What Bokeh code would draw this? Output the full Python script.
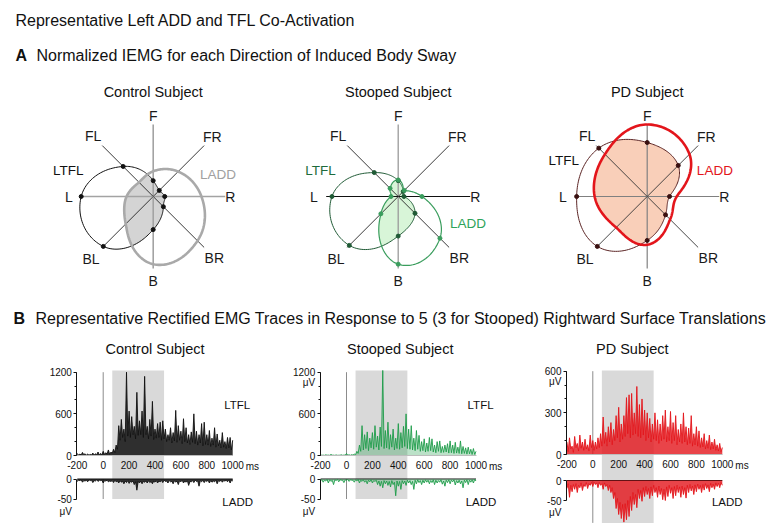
import math
import numpy as np
from bokeh.plotting import figure
from bokeh.layouts import column, row
from bokeh.models import (LinearAxis, Range1d, SingleIntervalTicker, FixedTicker,
                          BoxAnnotation, Label)
from bokeh.core.properties import value
from bokeh.embed import file_html
from bokeh.resources import INLINE

FONT = "Liberation Sans"

# ------------------------------------------------------------------ data
TITLE = "Representative Left ADD and TFL Co-Activation"
PANEL_A = ("A", "Normalized IEMG for each Direction of Induced Body Sway")
PANEL_B = ("B", "Representative Rectified EMG Traces in Response to 5 (3 for Stooped) Rightward Surface Translations")
SUBJECTS = ["Control Subject", "Stooped Subject", "PD Subject"]

DIRECTIONS = ["F", "FR", "R", "BR", "B", "BL", "L", "FL"]
DIR_ANGLES = [90, 45, 0, -45, -90, -135, -180, -225]

# normalized IEMG per direction (same order as DIRECTIONS)
CONTROL_LTFL = [0.22, 0.12, 0.16, 0.20, 0.46, 0.98, 1.00, 0.59]
CONTROL_LADD = [0.35, 0.49, 0.67, 0.87, 0.94, 0.54, 0.37, 0.28]
STOOPED_LTFL = [0.22, 0.10, 0.08, 0.33, 0.55, 0.96, 0.92, 0.47]
STOOPED_LADD = [0.23, 0.12, 0.33, 0.82, 0.94, 0.34, 0.10, 0.16]
PD_LTFL = [0.75, 0.61, 0.31, 0.36, 0.61, 0.98, 0.98, 0.95]
PD_LADD = [1.00, 0.83, 0.41, 0.45, 0.67, 0.61, 0.73, 0.83]

TIME_TICKS = [-200, 0, 200, 400, 600, 800, 1000]
STIM_ONSET = 0
SHADE_MS = [70, 470]
T_PEAK = list(range(-200, 1001, 20))   # times of local extremes (ms)
T_MID = list(range(-190, 991, 20))     # times of in-between values (ms)

CONTROL_LTFL_PEAK = [30, 20, 45, 25, 20, 15, 35, 25, 50, 30,
                     60, 40, 80, 50, 90, 150, 430, 520, 380, 1200,
                     640, 560, 420, 910, 500, 640, 1140, 420, 520, 780,
                     380, 460, 480, 500, 380, 300, 400, 330, 650, 430,
                     350, 530, 400, 300, 340, 600, 350, 300, 460, 480,
                     300, 360, 250, 400, 310, 220, 330, 200, 260, 260, 220]
CONTROL_LTFL_MID = [5, 8, 10, 5, 5, 8, 5, 10, 8, 10,
                    15, 20, 15, 30, 40, 90, 220, 260, 200, 280,
                    260, 300, 240, 290, 300, 260, 300, 240, 280, 230,
                    250, 260, 220, 240, 200, 220, 180, 210, 190, 220,
                    170, 200, 180, 160, 190, 170, 150, 180, 140, 160,
                    150, 130, 150, 120, 140, 110, 120, 100, 110, 80]
CONTROL_LADD_PEAK = [-6, -4, -8, -5, -7, -4, -9, -5, -6, -4,
                     -10, -5, -7, -6, -9, -7, -10, -8, -12, -9,
                     -11, -8, -14, -28, -10, -12, -8, -10, -9, -12,
                     -8, -10, -7, -9, -6, -10, -7, -12, -8, -14,
                     -7, -10, -8, -16, -7, -9, -6, -18, -7, -9,
                     -6, -10, -8, -7, -12, -6, -8, -5, -7, -10, -5]
CONTROL_LADD_MID = [-3, -2, -4, -3, -2, -3, -4, -2, -3, -3,
                    -4, -3, -5, -4, -3, -5, -4, -6, -5, -4,
                    -6, -5, -7, -6, -5, -6, -5, -4, -6, -5,
                    -4, -5, -4, -3, -5, -4, -6, -4, -5, -4,
                    -3, -5, -4, -6, -4, -3, -5, -4, -3, -4,
                    -3, -4, -5, -3, -4, -3, -4, -3, -2, -3]

STOOPED_LTFL_PEAK = [8, 5, 10, 6, 15, 5, 8, 4, 10, 6,
                     30, 10, 12, 20, 60, 150, 430, 300, 340, 250,
                     330, 430, 280, 410, 1225, 360, 480, 300, 380, 250,
                     460, 330, 420, 600, 380, 430, 250, 360, 290, 200,
                     240, 180, 260, 240, 150, 200, 210, 130, 150, 170,
                     210, 150, 190, 120, 210, 130, 110, 120, 90, 100, 60]
STOOPED_LTFL_MID = [3, 2, 4, 3, 5, 2, 3, 4, 3, 5,
                    4, 3, 5, 10, 30, 60, 80, 100, 70, 110,
                    90, 120, 80, 130, 100, 110, 90, 120, 80, 100,
                    90, 110, 130, 100, 90, 80, 70, 90, 60, 70,
                    50, 60, 70, 50, 40, 60, 40, 45, 50, 35,
                    40, 30, 35, 30, 25, 30, 20, 25, 15, 15]
STOOPED_LADD_PEAK = [-3, -8, -5, -10, -6, -14, -4, -7, -3, -9,
                     -4, -6, -3, -8, -5, -10, -6, -8, -12, -7,
                     -10, -6, -14, -18, -22, -12, -16, -20, -14, -42,
                     -18, -26, -12, -16, -10, -14, -26, -12, -9, -14,
                     -10, -8, -12, -9, -14, -10, -8, -13, -18, -9,
                     -12, -7, -15, -10, -12, -22, -9, -14, -8, -10, -5]
STOOPED_LADD_MID = [-2, -3, -1, -2, -3, -2, -1, -2, -3, -2,
                    -1, -2, -3, -2, -1, -3, -2, -4, -3, -2,
                    -4, -3, -5, -6, -4, -5, -6, -4, -8, -5,
                    -6, -4, -5, -3, -4, -6, -3, -2, -4, -3,
                    -2, -3, -4, -2, -3, -4, -2, -5, -3, -2,
                    -3, -2, -4, -3, -5, -3, -2, -3, -2, -1]

PD_LTFL_PEAK = [90, 120, 60, 130, 80, 140, 90, 110, 70, 140,
                100, 90, 120, 150, 270, 160, 200, 230, 180, 280,
                340, 220, 280, 410, 430, 440, 300, 490, 360, 400,
                320, 300, 260, 220, 300, 250, 220, 280, 320, 200,
                310, 230, 280, 180, 220, 300, 200, 190, 280, 150,
                200, 170, 120, 150, 100, 140, 90, 110, 70, 80, 50]
PD_LTFL_MID = [20, 40, 15, 50, 25, 45, 30, 40, 25, 50,
               30, 40, 50, 60, 80, 60, 90, 70, 100, 120,
               90, 110, 130, 150, 120, 140, 150, 130, 120, 140,
               100, 120, 90, 110, 100, 80, 100, 110, 90, 100,
               80, 100, 70, 90, 80, 90, 70, 80, 60, 70,
               60, 50, 55, 40, 45, 35, 40, 30, 25, 20]
PD_LADD_PEAK = [-20, -42, -28, -22, -30, -18, -25, -15, -20, -12,
                -15, -10, -18, -12, -22, -15, -25, -30, -45, -70,
                -85, -95, -104, -98, -90, -75, -60, -68, -45, -52,
                -40, -35, -45, -38, -30, -42, -35, -48, -50, -40,
                -32, -45, -38, -30, -42, -35, -44, -30, -26, -35,
                -28, -22, -30, -24, -20, -28, -18, -22, -15, -18, -12]
PD_LADD_MID = [-8, -12, -10, -8, -12, -6, -10, -5, -8, -5,
               -4, -6, -5, -8, -6, -10, -12, -18, -30, -45,
               -55, -60, -58, -50, -40, -30, -35, -22, -25, -18,
               -15, -20, -16, -12, -18, -14, -20, -22, -16, -12,
               -18, -15, -12, -16, -14, -18, -12, -10, -14, -11,
               -9, -12, -10, -8, -11, -7, -9, -6, -7, -5]

# ------------------------------------------------------------------ helpers
def closed_curve(vals, steps=30):
    k = len(vals)
    th, rr = [], []
    for i in range(k):
        p0, p1, p2, p3 = vals[(i - 1) % k], vals[i], vals[(i + 1) % k], vals[(i + 2) % k]
        a1 = DIR_ANGLES[i]
        a2 = a1 - 45
        for j in range(steps):
            t = j / steps
            r = 0.5 * (2 * p1 + (-p0 + p2) * t + (2 * p0 - 5 * p1 + 4 * p2 - p3) * t * t
                       + (-p0 + 3 * p1 - 3 * p2 + p3) * t ** 3)
            th.append(math.radians(a1 + (a2 - a1) * t))
            rr.append(max(r, 0.004))
    th.append(th[0])
    rr.append(rr[0])
    return np.array(th), np.array(rr)


def lab(p, x, y, text, size, color="#111111", align="center", baseline="middle",
        style="normal", rng=None):
    kw = dict(x=x, y=y, text=text, text_font=FONT, text_font_size=size,
              text_color=color, text_align=align, text_baseline=baseline,
              text_font_style=style)
    if rng:
        kw["y_range_name"] = rng
    p.add_layout(Label(**kw))


def bare(width, height, xr, yr):
    p = figure(width=width, height=height, x_range=xr, y_range=yr,
               x_axis_location=None, y_axis_location=None, toolbar_location=None,
               output_backend="svg", min_border=0, outline_line_color=None)
    p.grid.grid_line_color = None
    return p


def plain_minus(ticks):
    return {t: str(t) for t in ticks if t < 0}


# ------------------------------------------------------------------ headers
TOTAL_W = 771
H1 = 72
h1 = bare(TOTAL_W, H1, Range1d(0, TOTAL_W), Range1d(0, H1))
lab(h1, 15, H1 - 20, TITLE, "16px", align="left")
lab(h1, 15, H1 - 55, PANEL_A[0], "16px", align="left", style="bold")
lab(h1, 36, H1 - 55, PANEL_A[1], "16px", align="left")

H2 = 42
h2 = bare(TOTAL_W, H2, Range1d(0, TOTAL_W), Range1d(0, H2))
lab(h2, 13, H2 - 28, PANEL_B[0], "16px", align="left", style="bold")
lab(h2, 35, H2 - 28, PANEL_B[1], "16px", align="left")

# ------------------------------------------------------------------ polar panels
POLAR_H = 218
POLAR_CY = 124
PX_UNIT = 72.0
LABEL_R = [1.12, 1.16, 1.07, 1.20, 1.17, 1.22, 1.17, 1.18]

polar_specs = [
    dict(width=272, cx=152.7, ltfl=CONTROL_LTFL, ladd=CONTROL_LADD,
         axis_col=["#a3a3a3", "#222222", "#a3a3a3", "#222222", "#a3a3a3", "#222222", "#a3a3a3", "#222222"],
         axis_w=[1.6, 0.9, 1.6, 0.9, 1.6, 0.9, 1.6, 0.9],
         fill="#d4d4d4", c_ltfl="#111111", w_ltfl=1.0, c_ladd="#a9a9a9", w_ladd=2.6,
         lab_ltfl=("#111111", -1.18, 0.36), lab_ladd=("#a0a0a0", 0.90, 0.30),
         dots_ladd=False, dot_col="#111111"),
    dict(width=248, cx=125.7, ltfl=STOOPED_LTFL, ladd=STOOPED_LADD,
         axis_col=["#9a9a9a", "#222222", "#111111", "#222222", "#9a9a9a", "#222222", "#111111", "#222222"],
         axis_w=[1.3, 0.9, 1.0, 0.9, 1.3, 0.9, 1.0, 0.9],
         fill="#d8f5d8", c_ltfl="#1f5a35", w_ltfl=1.0, c_ladd="#3a9d5d", w_ladd=1.2,
         lab_ltfl=("#1d6b3c", -1.08, 0.36), lab_ladd=("#2ea35a", 0.97, -0.38),
         dots_ladd=True, dot_col="#1f5a35"),
    dict(width=251, cx=126.7, ltfl=PD_LTFL, ladd=PD_LADD,
         axis_col=["#808080", "#333333", "#808080", "#333333", "#808080", "#333333", "#808080", "#333333"],
         axis_w=[1.2, 0.9, 1.2, 0.9, 1.2, 0.9, 1.2, 0.9],
         fill="#f9cfb9", c_ltfl="#5b2424", w_ltfl=1.0, c_ladd="#e3151b", w_ladd=2.6,
         lab_ltfl=("#111111", -1.16, 0.50), lab_ladd=("#e3151b", 0.94, 0.36),
         dots_ladd=False, dot_col="#3a1010"),
]

polar_figs = []
for spec, name in zip(polar_specs, SUBJECTS):
    w = spec["width"]
    p = bare(w, POLAR_H,
             Range1d(-spec["cx"] / PX_UNIT, (w - spec["cx"]) / PX_UNIT),
             Range1d(-(POLAR_H - POLAR_CY) / PX_UNIT, POLAR_CY / PX_UNIT))
    th, r1 = closed_curve(spec["ltfl"])
    _, r2 = closed_curve(spec["ladd"])
    rm = np.minimum(r1, r2)
    p.patch(rm * np.cos(th), rm * np.sin(th), fill_color=spec["fill"], line_color=None)
    ang = np.radians(DIR_ANGLES)
    p.segment(x0=[0] * 8, y0=[0] * 8, x1=list(np.cos(ang)), y1=list(np.sin(ang)),
              line_color=spec["axis_col"], line_width=spec["axis_w"])
    p.line(r1 * np.cos(th), r1 * np.sin(th), line_color=spec["c_ltfl"], line_width=spec["w_ltfl"])
    p.line(r2 * np.cos(th), r2 * np.sin(th), line_color=spec["c_ladd"], line_width=spec["w_ladd"])
    v1 = np.array(spec["ltfl"])
    p.scatter(v1 * np.cos(ang), v1 * np.sin(ang), size=4, color=spec["dot_col"])
    if spec["dots_ladd"]:
        v2 = np.array(spec["ladd"])
        p.scatter(v2 * np.cos(ang), v2 * np.sin(ang), size=4, color=spec["c_ladd"])
    lr = np.array(LABEL_R)
    p.text(x=list(lr * np.cos(ang)), y=list(lr * np.sin(ang)), text=DIRECTIONS,
           text_font=value(FONT), text_font_size=value("14px"), text_color="#1a1a1a",
           text_align="center", text_baseline="middle")
    c, x, y = spec["lab_ltfl"]
    lab(p, x, y, "LTFL", "13.5px", color=c)
    c, x, y = spec["lab_ladd"]
    lab(p, x, y, "LADD", "13.5px", color=c)
    lab(p, 0, 1.45, name, "14.5px")
    polar_figs.append(p)

# ------------------------------------------------------------------ EMG panels
EMG_H = 192
MS_PX = 0.1295
LADD_PX = 0.4
AXIS_MS = -203
SHADE_TOP_PX = 38
LADD_TICKS = [-50, 0]


def zigzag(peaks, mids):
    xs, ys = [], []
    for i in range(len(mids)):
        xs += [T_PEAK[i], T_MID[i]]
        ys += [peaks[i], mids[i]]
    xs.append(T_PEAK[-1])
    ys.append(peaks[-1])
    return xs, ys


emg_specs = [
    dict(width=280, zero=102.7, lz=123, ltfl_ticks=[0, 600, 1200], az=146.5, floor=-50,
         color="#111111", alpha=0.85, ltfl=(CONTROL_LTFL_PEAK, CONTROL_LTFL_MID),
         ladd=(CONTROL_LADD_PEAK, CONTROL_LADD_MID), title_ms=400, uv_top=False,
         ltfl_label=True),
    dict(width=245, zero=66.0, lz=123, ltfl_ticks=[0, 600, 1200], az=146.5, floor=-50,
         color="#1e9c4a", alpha=0.3, ltfl=(STOOPED_LTFL_PEAK, STOOPED_LTFL_MID),
         ladd=(STOOPED_LADD_PEAK, STOOPED_LADD_MID), title_ms=415, uv_top=True,
         ltfl_label=True),
    dict(width=246, zero=67.3, lz=122, ltfl_ticks=[0, 300, 600], az=148, floor=-106,
         color="#e3151b", alpha=0.8, ltfl=(PD_LTFL_PEAK, PD_LTFL_MID),
         ladd=(PD_LADD_PEAK, PD_LADD_MID), title_ms=305, uv_top=True,
         ltfl_label=False),
]

emg_figs = []
for spec, name in zip(emg_specs, SUBJECTS):
    w = spec["width"]
    z = spec["zero"]
    lz = spec["lz"]
    ticks = spec["ltfl_ticks"]
    lpx = 83.3 / ticks[-1]
    az = spec["az"]
    p = bare(w, EMG_H, Range1d(-z / MS_PX, (w - z) / MS_PX),
             Range1d(-(EMG_H - lz) / lpx, lz / lpx))
    p.extra_y_ranges = {"ladd": Range1d(-(EMG_H - az) / LADD_PX, az / LADD_PX)}

    p.add_layout(BoxAnnotation(left=SHADE_MS[0], right=SHADE_MS[1],
                               top=(az - SHADE_TOP_PX) / LADD_PX, bottom=spec["floor"],
                               y_range_name="ladd", fill_color="#d9d9d9", fill_alpha=1.0,
                               line_color=None, level="underlay"))
    # stimulus onset line
    p.segment(x0=[STIM_ONSET], y0=[0], x1=[STIM_ONSET], y1=[ticks[-1]],
              line_color="#8c8c8c", line_width=1)
    p.segment(x0=[STIM_ONSET], y0=[0], x1=[STIM_ONSET], y1=[spec["floor"]],
              line_color="#8c8c8c", line_width=1, y_range_name="ladd")
    # LADD zero line
    p.line([TIME_TICKS[0], TIME_TICKS[-1]], [0, 0], line_color="#111111", line_width=1,
           y_range_name="ladd")

    xs, ys = zigzag(*spec["ltfl"])
    p.varea(x=xs, y1=[0] * len(xs), y2=ys, fill_color=spec["color"], fill_alpha=spec["alpha"])
    p.line(xs, ys, line_color=spec["color"], line_width=0.9)
    xs, ys = zigzag(*spec["ladd"])
    p.varea(x=xs, y1=[0] * len(xs), y2=ys, fill_color=spec["color"], fill_alpha=spec["alpha"],
            y_range_name="ladd")
    p.line(xs, ys, line_color=spec["color"], line_width=0.9, y_range_name="ladd")

    # axes
    ya = LinearAxis(fixed_location=AXIS_MS, bounds=(ticks[0], ticks[-1]),
                    ticker=SingleIntervalTicker(interval=ticks[1] - ticks[0], num_minor_ticks=3))
    yb = LinearAxis(fixed_location=AXIS_MS, bounds=(LADD_TICKS[0], LADD_TICKS[-1]),
                    ticker=FixedTicker(ticks=LADD_TICKS), y_range_name="ladd",
                    major_label_overrides=plain_minus(LADD_TICKS))
    xa = LinearAxis(fixed_location=0, bounds=(TIME_TICKS[0], TIME_TICKS[-1]),
                    ticker=FixedTicker(ticks=TIME_TICKS),
                    major_label_overrides=plain_minus(TIME_TICKS))
    for ax in (ya, yb):
        ax.axis_line_color = "#111111"
        ax.axis_line_width = 1
        ax.major_tick_out = 3
        ax.major_tick_in = 0
        ax.minor_tick_out = 2
        ax.minor_tick_in = 0
        ax.major_tick_line_color = "#111111"
        ax.minor_tick_line_color = "#111111"
        ax.major_label_standoff = 2
        ax.major_label_text_font = FONT
        ax.major_label_text_font_size = "10px"
        ax.major_label_text_color = "#111111"
    xa.axis_line_color = "#bdbdbd"
    xa.major_tick_out = 0
    xa.major_tick_in = 0
    xa.minor_tick_out = 0
    xa.minor_tick_in = 0
    xa.major_label_standoff = 5
    xa.major_label_text_font = FONT
    xa.major_label_text_font_size = "10px"
    xa.major_label_text_color = "#111111"
    p.add_layout(ya, "left")
    p.add_layout(yb, "left")
    p.add_layout(xa, "below")

    lab(p, TIME_TICKS[-1] + 13 / MS_PX, -10.5 / lpx, "ms", "10px", align="left")
    uv_x = AXIS_MS - 5 / MS_PX
    lab(p, uv_x, LADD_TICKS[0] - 12 / LADD_PX, "\u03bcV", "10px", align="right", rng="ladd")
    if spec["uv_top"]:
        lab(p, uv_x, ticks[-1] - 10 / lpx, "\u03bcV", "10px", align="right")
    lab(p, spec["title_ms"], (lz - 16) / lpx, name, "14.5px")
    if spec["ltfl_label"]:
        lab(p, 935, (lz - 72) / lpx, "LTFL", "11.5px", align="left")
    lab(p, 920, -(169.5 - az) / LADD_PX, "LADD", "11.5px", align="left", rng="ladd")
    emg_figs.append(p)

layout = column(h1, row(*polar_figs), h2, row(*emg_figs))

with open("out.html", "w") as f:
    f.write(file_html(layout, INLINE))
